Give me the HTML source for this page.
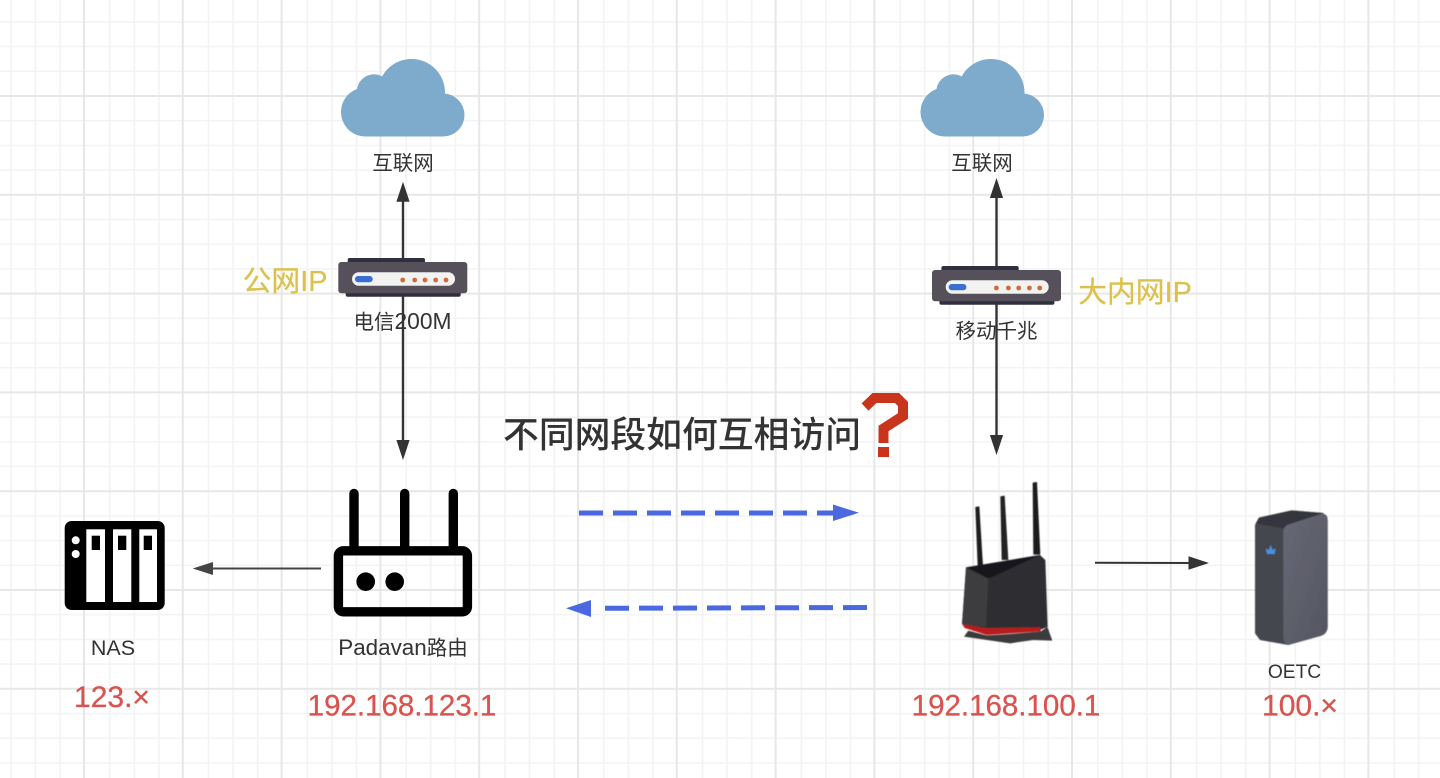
<!DOCTYPE html>
<html>
<head>
<meta charset="utf-8">
<style>
html,body{margin:0;padding:0;background:#fff;width:1440px;height:778px;overflow:hidden}
svg{display:block}
text{font-family:"Liberation Sans","Noto Sans CJK SC",sans-serif;text-anchor:middle}
.l{font-size:20.5px;fill:#333}
.r{font-size:29.5px;fill:#d9534f;stroke:#d9534f;stroke-width:.3px}
.y{font-size:28.8px;fill:#dcc14e;stroke:#dcc14e;stroke-width:.25px}
</style>
</head>
<body>
<svg width="1440" height="778" viewBox="0 0 1440 778" xmlns="http://www.w3.org/2000/svg">
<defs>
<pattern id="g" x="84" y="96" width="98.8" height="98.8" patternUnits="userSpaceOnUse">
<g stroke="#f3f3f3" stroke-width="1.6" fill="none">
<path d="M25.8 0V98.8M50.3 0V98.8M74.9 0V98.8M0 24.7H98.8M0 49.4H98.8M0 74.1H98.8"/>
</g>
<g stroke="#e7e7e7" stroke-width="2" fill="none">
<path d="M0 0V98.8M98.8 0V98.8M0 0H98.8M0 98.8H98.8"/>
</g>
</pattern>
<linearGradient id="oetc" x1="0" y1="0" x2="1" y2="1">
<stop offset="0" stop-color="#676975"/><stop offset="1" stop-color="#545560"/>
</linearGradient>
<filter id="soft" x="-5%" y="-5%" width="110%" height="110%"><feGaussianBlur stdDeviation="1.2"/></filter>
<g id="cloud" fill="#7eabcb">
<circle cx="365.5" cy="112" r="24.5"/>
<circle cx="374" cy="91.5" r="17.2"/>
<circle cx="411.5" cy="92.5" r="33.5"/>
<circle cx="443" cy="115" r="21.5"/>
<rect x="365" y="95" width="78" height="41.5"/>
</g>
<g id="modem">
<rect x="347.7" y="258" width="77.3" height="6" rx="2" fill="#2f2f3f"/>
<rect x="345.7" y="291" width="115" height="5.7" rx="2" fill="#2f2f3f"/>
<rect x="338.3" y="262" width="129" height="31.3" rx="3" fill="#55505a"/>
<rect x="352" y="272.3" width="103" height="13.4" rx="6.7" fill="#f2f3f1"/>
<rect x="355" y="276" width="17.7" height="6.3" rx="3" fill="#3a6fd0"/>
<g fill="#d06a3e"><circle cx="402.7" cy="280" r="2.4"/><circle cx="414.7" cy="280" r="2.4"/><circle cx="425" cy="280" r="2.4"/><circle cx="435.7" cy="280" r="2.4"/><circle cx="446" cy="280" r="2.4"/></g>
</g>
</defs>
<rect width="1440" height="778" fill="#fff"/>
<rect width="1440" height="778" fill="url(#g)"/>

<use href="#cloud"/>
<use href="#cloud" x="579.5"/>

<g stroke="#333" stroke-width="2.4" fill="none">
<path d="M403 260V198"/><path d="M403 296V444"/>
<path d="M996.5 268V194"/><path d="M996.5 304V439"/>
</g>
<g fill="#333">
<path d="M403 181.7L409.6 201.7H396.4Z"/>
<path d="M403 460L396.4 440H409.6Z"/>
<path d="M996.5 178L1003.1 198H989.9Z"/>
<path d="M996.5 455L989.9 435H1003.1Z"/>
</g>
<path d="M321 568.5H210" stroke="#444" stroke-width="2"/>
<path d="M192.7 568.5L213 562V575Z" fill="#444"/>
<path d="M1095 562.7L1192 563" stroke="#333" stroke-width="2"/>
<path d="M1209 563L1188.5 556.3V569.7Z" fill="#333"/>

<use href="#modem"/>
<use href="#modem" x="593.7" y="8"/>

<text class="l" x="403" y="170">互联网</text>
<text class="l" x="982" y="170">互联网</text>
<text class="l" x="402.5" y="329">电信<tspan style="font-size:22.8px">200M</tspan></text>
<text class="l" x="996.5" y="338">移动千兆</text>
<text class="y" x="285" y="291">公网IP</text>
<text class="y" x="1135" y="302">大内网IP</text>

<text x="682" y="447" fill="#333" font-weight="500" style="font-size:35.8px">不同网段如何互相访问</text>
<path d="M865 407L874.5 398H897L903 404V416L883.5 428.5V443" fill="none" stroke="#c9341c" stroke-width="10"/>
<rect x="878" y="447" width="11" height="10" fill="#c9341c"/>

<path d="M579 513H833" stroke="#4a68e0" stroke-width="5" stroke-dasharray="24 10" fill="none"/>
<path d="M859 512.8L833 504.5V521Z" fill="#4a68e0"/>
<path d="M867 607.5L595 608.3" stroke="#4a68e0" stroke-width="5" stroke-dasharray="24 10" fill="none"/>
<path d="M566 608.3L591 600V617Z" fill="#4a68e0"/>

<!-- NAS -->
<rect x="64.7" y="521" width="100" height="89" rx="7" fill="#000"/>
<g fill="#fff">
<rect x="86.3" y="529.3" width="18.7" height="72.7"/>
<rect x="113" y="529.3" width="18.3" height="72.7"/>
<rect x="139.3" y="529.3" width="17.7" height="72.7"/>
<circle cx="75.7" cy="540.3" r="4"/><circle cx="75.7" cy="554" r="4"/>
</g>
<g fill="#000">
<rect x="91.7" y="535.7" width="8.3" height="14.3"/>
<rect x="118" y="535.7" width="8.3" height="14.3"/>
<rect x="143.7" y="535.7" width="8.3" height="14.3"/>
</g>

<!-- Padavan router -->
<g stroke="#000" stroke-width="9.4" stroke-linecap="round" fill="none">
<path d="M354 493.5V548M404.7 493.5V548M453.3 493.5V548"/>
<rect x="338.4" y="550.8" width="129" height="61" rx="5"/>
</g>
<circle cx="365.7" cy="581.7" r="9.3" fill="#000"/>
<circle cx="394.7" cy="581.7" r="9.3" fill="#000"/>

<!-- ASUS router -->
<g transform="translate(960 480) scale(.3333)" filter="url(#soft)">
<path d="M46 81L58 79L69 258H53Z" fill="#1d1d1f"/>
<path d="M121 49L134 47L145 240H125Z" fill="#222"/>
<path d="M218 8L231 6L241 224H220Z" fill="#1d1d1f"/>
<path d="M25 452L80 466L150 462L243 454L262 440L277 482L220 480L150 490L12 470Z" fill="#3a3a3c"/>
<path d="M18 262L240 225L256 240L263 440L240 450L80 448L6 432Z" fill="#2e2e30"/>
<path d="M18 262L85 296L78 440L6 432Z" fill="#3c3c3f"/>
<path d="M18 262L240 225L85 296Z" fill="#19191c"/>
<path d="M6 432L80 444L240 442L243 454L80 465L14 444Z" fill="#b91c1c"/>
</g>

<!-- OETC -->
<g transform="translate(1245 505) scale(.3333)" filter="url(#soft)">
<path d="M42 38L140 16L235 24L248 45V370L230 392L130 420L45 405L30 385V60Z" fill="#44464f"/>
<path d="M42 38L140 16L235 24L125 62L115 70L32 55Z" fill="#34353d"/>
<path d="M115 78Q118 62 132 58L228 27Q248 24 248 45V365Q248 385 230 392L135 418Q116 420 115 395Z" fill="url(#oetc)"/>
<path d="M62 130L71 135L77 120L83 135L92 130L89 147H66Z" fill="#4a8ee0"/>
</g>

<text class="l" x="113" y="655" style="font-size:21.5px">NAS</text>
<text class="l" x="403" y="655">
<tspan style="font-size:22.4px">Padavan</tspan>路由</text>
<text class="l" x="1294.5" y="678" style="font-size:19.2px">OETC</text>
<text class="r" x="112" y="707" style="font-size:30px">123.×</text>
<text class="r" x="402" y="715.5">192.168.123.1</text>
<text class="r" x="1006" y="715.5">192.168.100.1</text>
<text class="r" x="1300" y="715.5" style="font-size:30px">100.×</text>
</svg>
</body>
</html>
